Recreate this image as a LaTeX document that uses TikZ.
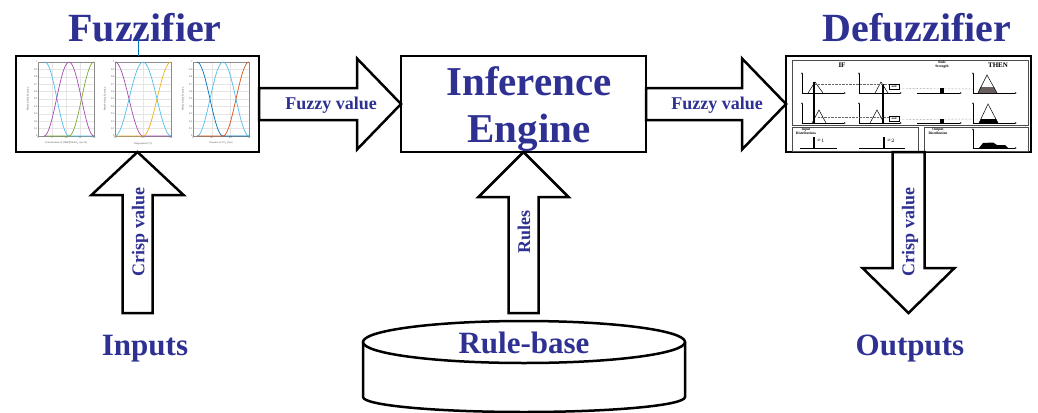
\documentclass[tikz,border=0pt]{standalone}
\usepackage{fontspec}
\setmainfont{Liberation Serif}
\usetikzlibrary{arrows.meta,calc}
\definecolor{fuzzblue}{RGB}{46,49,146}
\definecolor{mcyan}{RGB}{77,190,238}
\definecolor{mpurple}{RGB}{165,75,175}
\definecolor{mgreen}{RGB}{119,172,48}
\definecolor{myellow}{RGB}{237,177,32}
\definecolor{morange}{RGB}{217,83,25}
\definecolor{mdblue}{RGB}{0,114,189}
\definecolor{thengray}{RGB}{105,95,95}

\begin{document}
\begin{tikzpicture}[x=1pt,y=-1pt,
  blockbox/.style={draw,line width=2.5pt,fill=white,inner sep=0pt,outer sep=0pt},
  blockarrow/.style={draw,line width=2.5pt,fill=white,line join=miter},
  bigtitle/.style={text=fuzzblue,font=\fontsize{40}{40}\selectfont\bfseries,inner sep=0pt,anchor=base},
  enginetext/.style={text=fuzzblue,font=\fontsize{41}{47}\selectfont\bfseries,inner sep=0pt,align=center},
  iolabel/.style={text=fuzzblue,font=\fontsize{31}{31}\selectfont\bfseries,inner sep=0pt,anchor=base},
  flowlabel/.style={text=fuzzblue,font=\fontsize{18}{18}\selectfont\bfseries,inner sep=0pt},
  gridln/.style={draw=black!10,line width=0.3pt},
  plotframe/.style={draw=black!45,line width=0.4pt},
  ticklab/.style={text=black!70,font=\fontsize{2.6}{3}\selectfont,inner sep=0.5pt},
  curve/.style={line width=0.7pt},
  thinln/.style={draw=black!70,line width=0.5pt},
  miniax/.style={line width=0.5pt,-{Latex[length=2pt,width=1.6pt]}},
  dotln/.style={black!60,line width=0.4pt,densely dotted},
  tinybold/.style={font=\fontsize{3.6}{3.8}\selectfont\bfseries,inner sep=0pt,align=center},
  andbox/.style={draw,line width=0.4pt,fill=white,font=\fontsize{3}{3}\selectfont\bfseries,inner sep=0.6pt,minimum width=10pt,minimum height=5pt}
]
\useasboundingbox (0,0) rectangle (1038,412);

% the three blocks
\node[blockbox,minimum width=243pt,minimum height=96pt] (fuzzbox) at (137.5,104) {};
\node[blockbox,minimum width=245pt,minimum height=96pt] (infbox) at (523.5,104) {};
\node[blockbox,minimum width=245pt,minimum height=96pt] (defuzzbox) at (908.5,104) {};

% free ends of the vertical arrows
\coordinate (infoot) at (137.5,313);
\coordinate (rulefoot) at (523.5,313);
\coordinate (outtip) at (908.5,313);

% membership function plots
\foreach \px in {38,115,193} {
  \foreach \g in {1,...,9}
    \draw[gridln] (\px,{136-7.4*\g}) -- ({\px+56},{136-7.4*\g});
  \foreach \g/\t in {0/0,1/0.1,2/0.2,3/0.3,4/0.4,5/0.5,6/0.6,7/0.7,8/0.8,9/0.9,10/1}
    \node[ticklab,anchor=east] at (\px,{136-7.4*\g}) {\t};
  \node[ticklab,rotate=90] at ({\px-10},99) {Membership Function};
}
\foreach \gx in {52,66,80} \draw[gridln] (\gx,62) -- (\gx,136);
\draw[gridln] (143,62) -- (143,136);
\foreach \gx in {211.7,230.3} \draw[gridln] (\gx,62) -- (\gx,136);
\draw[plotframe] (38,62) rectangle (94,136);
\draw[plotframe] (115,62) rectangle (171,136);
\draw[plotframe] (193,62) rectangle (249,136);
\foreach \gx/\t in {38/0,52/5,66/10,80/15,94/20} \node[ticklab,anchor=north] at (\gx,136.5) {\t};
\foreach \gx/\t in {115/30,143/45,171/60} \node[ticklab,anchor=north] at (\gx,136.5) {\t};
\foreach \gx/\t in {193/0,211.7/10,230.3/20,249/30} \node[ticklab,anchor=north] at (\gx,136.5) {\t};
\node[ticklab] at (66,143.5) {Concentration of [TBP][MeSO\textsubscript{3}] (wt \%)};
\node[ticklab] at (143,143.5) {Temperature (°C)};
\node[ticklab] at (221,143.5) {Pressure of CO\textsubscript{2} (bar)};
\draw[mcyan,curve] plot[domain=45:69] (\x,{136-37*(1+cos(7.5*(\x-45)))}) -- (94,136);
\draw[mpurple,curve] plot[domain=44:94,samples=40] (\x,{136-37*(1-cos(7.2*(\x-44)))});
\draw[mgreen,curve] (45,136) -- plot[domain=69:94] (\x,{136-37*(1-cos(7.2*(\x-69)))});
\draw[mpurple,curve] plot[domain=115:143] (\x,{136-37*(1+cos(6.4286*(\x-115)))}) -- (171,136);
\draw[mcyan,curve] plot[domain=115:171,samples=40] (\x,{136-37*(1-cos(6.4286*(\x-115)))});
\draw[myellow,curve] (115,136) -- plot[domain=143:171] (\x,{136-37*(1-cos(6.4286*(\x-143)))});
\draw[mdblue,curve] plot[domain=197:223] (\x,{136-37*(1+cos(6.923*(\x-197)))}) -- (249,136);
\draw[mcyan,curve] plot[domain=197:249,samples=40] (\x,{136-37*(1-cos(6.923*(\x-197)))});
\draw[morange,curve] (197,136) -- plot[domain=223:249] (\x,{136-37*(1-cos(6.923*(\x-223)))});

% defuzzification sketch
\draw[thinln] (792,60) rectangle (1028,125);
\draw[thinln] (792,127) rectangle (918,151);
\draw[thinln] (924,127) rectangle (1028,151);
\node[font=\fontsize{7}{7}\selectfont\bfseries,inner sep=0pt] (iftext) at (842,65) {IF};
\node[tinybold] (strength) at (942,65) {Rule\\Strength};
\node[font=\fontsize{7}{7}\selectfont\bfseries,inner sep=0pt] (thentext) at (998,65) {THEN};
\draw[miniax] (802,93) -- (802,72);
\draw[miniax] (802,93) -- (846,93);
\draw[miniax] (859,93) -- (859,72);
\draw[miniax] (859,93) -- (902,93);
\draw[miniax] (917,93) -- (962,93);
\draw[miniax] (973,93) -- (973,72);
\draw[miniax] (973,93) -- (1017,93);
\draw[miniax] (802,123) -- (802,102);
\draw[miniax] (802,123) -- (846,123);
\draw[miniax] (859,123) -- (859,102);
\draw[miniax] (859,123) -- (902,123);
\draw[miniax] (917,123) -- (962,123);
\draw[miniax] (973,123) -- (973,102);
\draw[miniax] (973,123) -- (1017,123);
\draw[line width=0.5pt] (808,93) -- (815,82) -- (823,93);
\draw[line width=0.5pt] (875,93) -- (881,82) -- (888,93);
\draw[line width=0.5pt] (812,123) -- (819,110) -- (826,123);
\draw[line width=0.5pt] (870,123) -- (877,110) -- (884,123);
\fill[thengray] (980.5,87) -- (994,87) -- (997,93) -- (978,93) -- cycle;
\draw[line width=0.5pt] (978,93) -- (987,75) -- (997,93);
\fill (981,119) -- (996,119) -- (998,123) -- (979,123) -- cycle;
\draw[line width=0.5pt] (979,123) -- (988,104) -- (998,123);
\draw[line width=1.6pt] (814,82) -- (814,124);
\draw[line width=1.6pt] (883,84) -- (883,124);
\draw[dotln] (815,84) -- (889,84);
\draw[dotln] (818,117) -- (889,117);
\node[andbox] (and1) at (894,86.5) {and};
\node[andbox] (and2) at (894,118.5) {and};
\draw[dotln] (and1.east) ++(0,2) -- (980,89);
\draw[dotln] (and2.east) ++(0,1) -- (981,119);
\fill (940,88) rectangle (943.5,93);
\fill (940,119) rectangle (943.5,123);
\node[tinybold] (indist) at (806,131.5) {Input\\Distributions};
\node[tinybold] (outdist) at (938,131.5) {Output\\Distribution};
\draw[line width=0.5pt] (800,148) -- (837,148);
\draw[line width=0.5pt] (859,148) -- (905,148);
\draw[line width=1.2pt] (814,137) -- (814,148);
\draw[line width=1.2pt] (884,137) -- (884,148);
\node[font=\fontsize{4}{4}\selectfont,inner sep=0pt] (xone) at (821,141) {$x_1$};
\node[font=\fontsize{4}{4}\selectfont,inner sep=0pt] (xtwo) at (891,141) {$x_2$};
\draw[miniax] (973,148) -- (973,128);
\draw[miniax] (973,148) -- (1017,148);
\fill (979,148) -- (983,143) -- (993,142.5) -- (997,145) -- (1005,145) -- (1008,148) -- cycle;

% big arrows
\draw[blockarrow] ($(fuzzbox.east)+(0,-16)$) -- ($(infbox.west)+(-44,-16)$) -- ($(infbox.west)+(-44,-45.5)$) -- (infbox.west) -- ($(infbox.west)+(-44,45.5)$) -- ($(infbox.west)+(-44,16)$) -- ($(fuzzbox.east)+(0,16)$) -- cycle;
\draw[blockarrow] ($(infbox.east)+(0,-16)$) -- ($(defuzzbox.west)+(-44,-16)$) -- ($(defuzzbox.west)+(-44,-45.5)$) -- (defuzzbox.west) -- ($(defuzzbox.west)+(-44,45.5)$) -- ($(defuzzbox.west)+(-44,16)$) -- ($(infbox.east)+(0,16)$) -- cycle;
\draw[blockarrow] ($(infoot)+(-15,0)$) -- ($(fuzzbox.south)+(-15,43)$) -- ($(fuzzbox.south)+(-46,43)$) -- (fuzzbox.south) -- ($(fuzzbox.south)+(46,43)$) -- ($(fuzzbox.south)+(15,43)$) -- ($(infoot)+(15,0)$) -- cycle;
\draw[blockarrow] ($(rulefoot)+(-15,0)$) -- ($(infbox.south)+(-15,45)$) -- ($(infbox.south)+(-45,45)$) -- (infbox.south) -- ($(infbox.south)+(45,45)$) -- ($(infbox.south)+(15,45)$) -- ($(rulefoot)+(15,0)$) -- cycle;
\draw[blockarrow] ($(defuzzbox.south)+(-16,0)$) -- ($(outtip)+(-16,-45)$) -- ($(outtip)+(-46,-45)$) -- (outtip) -- ($(outtip)+(46,-45)$) -- ($(outtip)+(16,-45)$) -- ($(defuzzbox.south)+(16,0)$) -- cycle;

% rule-base drum
\draw[line width=2.5pt,fill=white] (363,342) -- (363,397) .. controls (363,405.3) and (435.1,412) .. (524,412) .. controls (612.9,412) and (685,405.3) .. (685,397) -- (685,342);
\draw[line width=2.5pt,fill=white] (524,342) ellipse [x radius=161, y radius=21];

% titles and labels
\node[bigtitle] (fuzztitle) at (145,42) {Fuzzifier};
\node[bigtitle] (defuzztitle) at (917,42) {Defuzzifier};
\draw[mdblue,line width=1pt] ([xshift=-7pt,yshift=3pt]fuzztitle.base) -- ([xshift=-7pt]fuzztitle.base |- fuzzbox.north);
\node[enginetext] (inftext) at (529,109) {Inference\\Engine};
\node[flowlabel,anchor=base] (fuzzval1) at (331,109) {Fuzzy value};
\node[flowlabel,anchor=base] (fuzzval2) at (717,109) {Fuzzy value};
\node[flowlabel,rotate=90] (crispin) at (140,232) {Crisp value};
\node[flowlabel,rotate=90] (rules) at (524,232) {Rules};
\node[flowlabel,rotate=90] (crispout) at (910,232) {Crisp value};
\node[iolabel] (inputs) at (145,355) {Inputs};
\node[iolabel] (rulebase) at (524,353) {Rule-base};
\node[iolabel] (outputs) at (910,355) {Outputs};
\end{tikzpicture}
\end{document}
